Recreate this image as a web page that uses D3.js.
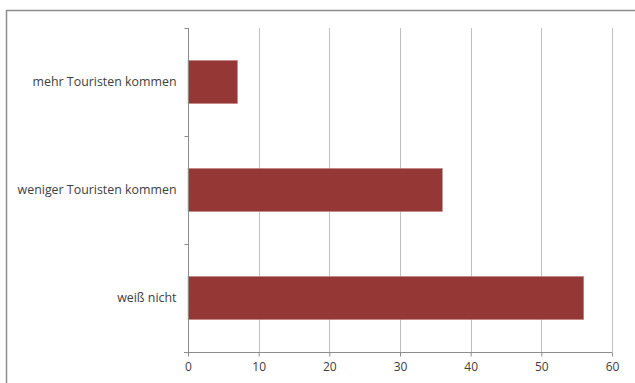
<!DOCTYPE html>
<html>
<head>
<meta charset="utf-8">
<script src="https://cdn.jsdelivr.net/npm/d3@7"></script>
<style>
  html, body { margin: 0; padding: 0; background: #fff; }
  svg { display: block; }
  text { font-family: "Open Sans", "Liberation Sans", sans-serif; fill: #404040; }
</style>
</head>
<body>
<svg id="chart" width="635" height="383"></svg>
<script>
const categories = ["mehr Touristen kommen", "weniger Touristen kommen", "weiß nicht"];
const values = [7, 36, 56];
const xTicks = [0, 10, 20, 30, 40, 50, 60];

const W = 635, H = 383;
const plot = { left: 188, right: 612, top: 28, bottom: 352 };

const svg = d3.select("#chart");

// outer frame (extends past right/bottom edges)
svg.append("rect")
  .attr("x", 6.5).attr("y", 10.5)
  .attr("width", 700).attr("height", 400)
  .attr("fill", "none").attr("stroke", "#8c8c8c").attr("stroke-width", 1.5);

const x = d3.scaleLinear().domain([0, 60]).range([plot.left, plot.right]);
const y = d3.scaleBand().domain(categories).range([plot.top, plot.bottom])
  .paddingInner(0.6).paddingOuter(0.3);
const yb = d3.scaleBand().domain(categories).range([plot.top, plot.bottom]);

// gridlines
svg.append("g").selectAll("line").data(xTicks.slice(1)).join("line")
  .attr("x1", d => Math.round(x(d)) + 0.5).attr("x2", d => Math.round(x(d)) + 0.5)
  .attr("y1", plot.top).attr("y2", plot.bottom)
  .attr("stroke", "#bfbfbf").attr("stroke-width", 1);

// bars
svg.append("g").selectAll("rect").data(values).join("rect")
  .attr("x", x(0))
  .attr("y", (d, i) => y(categories[i]))
  .attr("width", d => x(d) - x(0))
  .attr("height", y.bandwidth())
  .attr("fill", "#953735")
  .attr("stroke", "#c98a89").attr("stroke-width", 0.6);

// x axis
const xAxis = svg.append("g")
  .attr("transform", `translate(0,${plot.bottom + 0.5})`)
  .call(d3.axisBottom(x).tickValues(xTicks).tickSize(4).tickSizeOuter(0).tickPadding(6));
xAxis.select(".domain").attr("stroke", "#8c8c8c").attr("d", `M${plot.left - 4},0H${plot.right}`);
xAxis.selectAll(".tick line").attr("stroke", "#8c8c8c");
xAxis.selectAll(".tick text").attr("font-size", 12).attr("fill", "#404040")
  .style("font-family", '"Open Sans", "Liberation Sans", sans-serif');

// y axis
const yAxisG = svg.append("g").attr("transform", `translate(${plot.left + 0.5},0)`);
yAxisG.append("line").attr("x1", 0).attr("x2", 0)
  .attr("y1", plot.top).attr("y2", plot.bottom).attr("stroke", "#8c8c8c");
const bounds = categories.map(c => yb(c)).concat([plot.bottom]);
yAxisG.selectAll("line.tk").data(bounds.slice(0, 3)).join("line").attr("class", "tk")
  .attr("x1", -4).attr("x2", 0)
  .attr("y1", d => Math.round(d) + 0.5).attr("y2", d => Math.round(d) + 0.5)
  .attr("stroke", "#8c8c8c");
yAxisG.selectAll("text").data(categories).join("text")
  .attr("x", -12)
  .attr("y", d => yb(d) + yb.bandwidth() / 2)
  .attr("dy", "0.35em")
  .attr("text-anchor", "end")
  .attr("font-size", 12.4)
  .text(d => d);
</script>
</body>
</html>
